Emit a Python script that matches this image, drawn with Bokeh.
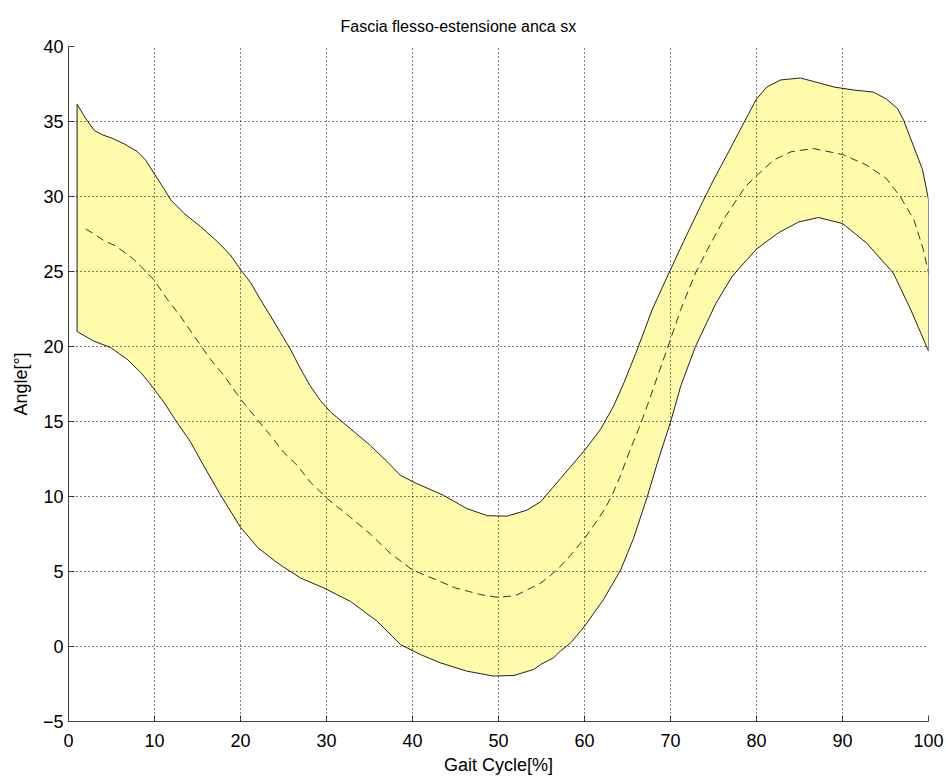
from bokeh.plotting import figure
from bokeh.models import Range1d, FixedTicker
from bokeh.embed import file_html
from bokeh.resources import INLINE

# Upper band boundary
upper_x = [1, 2, 3, 4, 5, 6.5, 8, 9, 10, 11, 11.9, 13.4, 15.35, 17.3, 18.8, 20, 21.2, 22.3, 23.5,
           24.65, 25.8, 27.0, 28.1, 29.3, 30.5, 32.8, 35.1, 37.1, 38.6, 40.5, 43.6, 46.3, 48.7,
           51, 53.3, 54.9, 57.2, 60, 61.9, 63.4, 64.6, 66, 67.9, 70, 71.8, 73.7, 75, 76.5, 78.1,
           80, 81.2, 82.8, 85.1, 87.1, 89, 91.3, 93.6, 95.1, 96.4, 97.1, 98.3, 99.3, 100]
upper_y = [36.15, 35.2, 34.4, 34.1, 33.9, 33.5, 33.0, 32.4, 31.5, 30.6, 29.77, 28.89, 28.0, 27.0,
           26.12, 25.13, 24.24, 23.14, 22.03, 20.93, 19.82, 18.49, 17.38, 16.39, 15.62, 14.51,
           13.4, 12.3, 11.41, 10.86, 10.08, 9.2, 8.72, 8.69, 9.09, 9.65, 11.19, 13.07, 14.51,
           16.05, 17.6, 19.6, 22.5, 25.13, 27.34, 29.6, 31.1, 32.7, 34.45, 36.5, 37.3, 37.77,
           37.9, 37.6, 37.3, 37.1, 36.96, 36.5, 35.86, 35.1, 33.3, 31.8, 29.8]

# Lower band boundary
lower_x = [1, 2.9, 4.9, 6.8, 8.4, 9.5, 11.1, 12.6, 14.2, 15.7, 17.7, 20, 22, 24, 25, 27, 29.7,
           32.8, 35.9, 38.6, 40.9, 43.2, 46.3, 49.4, 51.8, 54.1, 54.9, 56.4, 57.2, 58.4, 60,
           62.2, 64.2, 65.7, 67.3, 68.5, 70, 71.2, 72.9, 75.3, 77.2, 80, 82.6, 84.9, 87.2, 90,
           92.8, 95.9, 97.9, 99.4, 100]
lower_y = [21.0, 20.37, 19.93, 19.16, 18.27, 17.5, 16.28, 14.95, 13.63, 12.07, 10.08, 7.95, 6.6,
           5.7, 5.3, 4.56, 3.9, 3.0, 1.68, 0.13, -0.53, -1.08, -1.64, -1.97, -1.93, -1.53, -1.2,
           -0.75, -0.31, 0.25, 1.35, 3.12, 5.1, 7.21, 9.98, 12.3, 14.95, 17.38, 20.0, 22.9, 24.7,
           26.5, 27.6, 28.3, 28.6, 28.2, 26.9, 24.9, 22.5, 20.5, 19.7]

# Mean curve
mean_x = [2, 3, 4.1, 5.5, 7.4, 8.5, 9.9, 11.5, 13.0, 14.6, 16.5, 18.1, 20, 21.9, 23.5, 25.0,
          26.6, 28.1, 29.3, 30, 32.7, 35, 37.4, 40, 43.2, 45, 48, 50, 52, 54.9, 56.8, 58.4, 60,
          61.1, 62.4, 63.2, 64.2, 65.2, 66.3, 67.3, 68.3, 70, 71.2, 72.9, 74.5, 76.4, 78.7,
          80.4, 82, 84, 86.6, 90, 92.8, 95.1, 96.7, 98.3, 99.4, 100]
mean_y = [27.83, 27.5, 27.07, 26.7, 25.9, 25.3, 24.46, 23.14, 22.03, 20.7, 19.15, 18.05, 16.5,
          15.17, 14.06, 12.96, 12.07, 10.97, 10.31, 9.9, 8.65, 7.55, 6.22, 5.1, 4.34, 3.9, 3.45,
          3.27, 3.4, 4.22, 5.1, 6.1, 7.21, 8.09, 9.2, 10.08, 11.41, 12.96, 14.51, 16.05, 17.7,
          20.48, 22.48, 24.9, 26.68, 28.67, 30.66, 31.6, 32.43, 32.98, 33.2, 32.8, 32.1, 31.2,
          30.0, 28.45, 26.46, 24.9]

x_ticks = [0, 10, 20, 30, 40, 50, 60, 70, 80, 90, 100]
y_ticks = [-5, 0, 5, 10, 15, 20, 25, 30, 35, 40]

FONT = "Liberation Sans"

p = figure(width=946, height=777, output_backend="svg", toolbar_location=None,
           x_range=Range1d(0, 100), y_range=Range1d(-5, 40),
           title="Fascia flesso-estensione anca sx",
           min_border_left=68, min_border_right=18, min_border_top=46, min_border_bottom=53)

p.background_fill_color = "white"
p.border_fill_color = "white"
p.outline_line_color = None

p.title.text_font = FONT
p.title.text_font_size = "16px"
p.title.text_font_style = "normal"
p.title.align = "left"
p.title.offset = 272
p.title.standoff = 23
p.title.text_color = "black"

band_x = upper_x + lower_x[::-1]
band_y = upper_y + lower_y[::-1]
p.patch(band_x, band_y, fill_color="#FFFBAA", fill_alpha=1.0, line_color="#222222", line_width=1)
p.line(mean_x, mean_y, line_color="#333333", line_width=1, line_dash="8 5")

for ax in (p.xaxis[0], p.yaxis[0]):
    ax.major_tick_in = 6
    ax.major_tick_out = 0
    ax.minor_tick_in = 0
    ax.minor_tick_out = 0
    ax.axis_line_color = "#444444"
    ax.major_tick_line_color = "#444444"
    ax.major_label_text_font = FONT
    ax.major_label_text_font_size = "18px"
    ax.major_label_text_color = "black"
    ax.axis_label_text_font = FONT
    ax.axis_label_text_font_size = "18px"
    ax.axis_label_text_font_style = "normal"
    ax.axis_label_text_color = "black"

p.xaxis[0].ticker = FixedTicker(ticks=x_ticks)
p.yaxis[0].ticker = FixedTicker(ticks=y_ticks)
p.xaxis[0].axis_label = "Gait Cycle[%]"
p.yaxis[0].axis_label = "Angle[°]"
p.xaxis[0].major_label_standoff = 12
p.xaxis[0].axis_label_standoff = 5
p.yaxis[0].major_label_standoff = 5
p.yaxis[0].axis_label_standoff = 9

for g in (p.xgrid[0], p.ygrid[0]):
    g.grid_line_color = "#000000"
    g.grid_line_dash = "1 3"
    g.grid_line_width = 1
    g.level = "overlay"

open("out.html", "w").write(file_html(p, INLINE))
